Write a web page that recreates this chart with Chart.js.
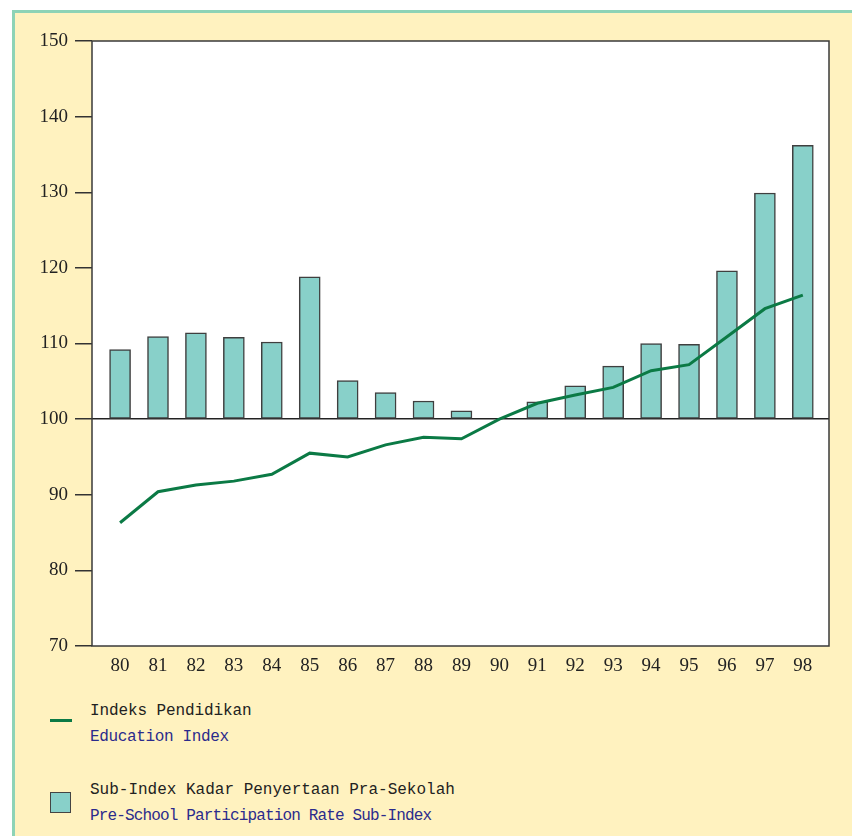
<!DOCTYPE html>
<html>
<head>
<meta charset="utf-8">
<script src="https://cdn.jsdelivr.net/npm/chart.js@4.4.1/dist/chart.umd.min.js"></script>
<style>
  html, body { margin: 0; padding: 0; background: #fff; }
  #page { position: absolute; left: 12px; top: 10px; width: 840px; height: 826px;
          background: #fff2bf; border-top: 3px solid #8dd3b6; border-left: 3px solid #8dd3b6; box-sizing: border-box; }
  #chartBox { position: absolute; left: 0; top: 0; width: 852px; height: 700px; }
  .lg { position: absolute; font-family: "Liberation Mono", monospace; font-size: 16px; white-space: nowrap; }
  .ms { color: #222; }
  .en { color: #2b2b8c; }
  .lineKey { position: absolute; left: 50px; top: 719px; width: 22px; height: 3px; background: #0b7a45; }
  .boxKey { position: absolute; left: 50px; top: 792px; width: 19px; height: 19px; background: #88d0c9; border: 1.5px solid #444; }
</style>
</head>
<body>
<div id="page"></div>
<div id="chartBox"><canvas id="eduChart" width="852" height="700"></canvas></div>

<div class="lineKey"></div>
<div class="lg ms" style="left:90px; top:702px; letter-spacing:-0.1px;">Indeks Pendidikan</div>
<div class="lg en" style="left:90px; top:728px; letter-spacing:-0.35px;">Education Index</div>

<div class="boxKey"></div>
<div class="lg ms" style="left:90px; top:781px;">Sub-Index Kadar Penyertaan Pra-Sekolah</div>
<div class="lg en" style="left:90px; top:807px; letter-spacing:-0.85px;">Pre-School Participation Rate Sub-Index</div>

<script>
// years (19xx)
const years = [80, 81, 82, 83, 84, 85, 86, 87, 88, 89, 90, 91, 92, 93, 94, 95, 96, 97, 98];
// Sub-Index Kadar Penyertaan Pra-Sekolah (base 1990 = 100)
const preSchool = [109.2, 110.9, 111.4, 110.8, 110.2, 118.8, 105.1, 103.5, 102.4, 101.1, 100, 102.3, 104.4, 107.0, 110.0, 109.9, 119.6, 129.9, 136.2];
// Indeks Pendidikan
const eduIndex = [86.3, 90.4, 91.3, 91.8, 92.7, 95.5, 95.0, 96.6, 97.6, 97.4, 100, 102.1, 103.2, 104.2, 106.4, 107.2, 110.9, 114.6, 116.4];
const yTicks = [70, 80, 90, 100, 110, 120, 130, 140, 150];

const plotBox = {
    id: 'plotBox',
    beforeDraw(chart) {
        const a = chart.chartArea, ctx = chart.ctx;
        ctx.save();
        ctx.fillStyle = '#ffffff';
        ctx.fillRect(a.left, a.top, a.right - a.left, a.bottom - a.top);
        ctx.restore();
    },
    afterDraw(chart) {
        const a = chart.chartArea, ctx = chart.ctx;
        ctx.save();
        ctx.strokeStyle = '#3a3a3a';
        ctx.lineWidth = 1.5;
        ctx.strokeRect(a.left, a.top, a.right - a.left, a.bottom - a.top);
        ctx.restore();
    }
};

new Chart(document.getElementById('eduChart').getContext('2d'), {
    type: 'bar',
    data: {
        datasets: [{
            type: 'line',
            label: 'Indeks Pendidikan',
            data: years.map((y, i) => ({ x: y, y: eduIndex[i] })),
            borderColor: '#0b7a45',
            borderWidth: 3,
            pointRadius: 0,
            tension: 0,
            order: 0
        }, {
            label: 'Sub-Index Kadar Penyertaan Pra-Sekolah',
            data: years.map((y, i) => ({ x: y, y: preSchool[i] })),
            base: 100,
            backgroundColor: '#88d0c9',
            borderColor: '#3f3f3f',
            borderWidth: 1.5,
            borderSkipped: false,
            barThickness: 21,
            order: 1
        }]
    },
    options: {
        responsive: false,
        animation: false,
        layout: { padding: { left: 0, top: 41, right: 23, bottom: 14 } },
        plugins: { legend: { display: false }, tooltip: { enabled: false } },
        scales: {
            x: {
                type: 'linear',
                min: 79.26,
                max: 98.69,
                offset: false,
                afterFit: s => { s.height = 40; },
                grid: { display: false, drawTicks: false },
                border: { display: false },
                ticks: {
                    stepSize: 1,
                    includeBounds: false,
                    padding: 9,
                    color: '#222',
                    font: { family: 'Liberation Serif', size: 19 },
                    callback: v => String(v)
                }
            },
            y: {
                min: 70,
                max: 150,
                afterFit: s => { s.width = 92; },
                afterBuildTicks: s => { s.ticks = yTicks.map(v => ({ value: v })); },
                grid: {
                    color: c => (c.tick && c.tick.value === 100) ? '#222' : 'rgba(0,0,0,0)',
                    lineWidth: 1.5,
                    tickColor: '#333',
                    tickLength: 17
                },
                border: { display: false },
                ticks: {
                    padding: 7,
                    color: '#222',
                    font: { family: 'Liberation Serif', size: 19 }
                }
            }
        }
    },
    plugins: [plotBox]
});
</script>
</body>
</html>
